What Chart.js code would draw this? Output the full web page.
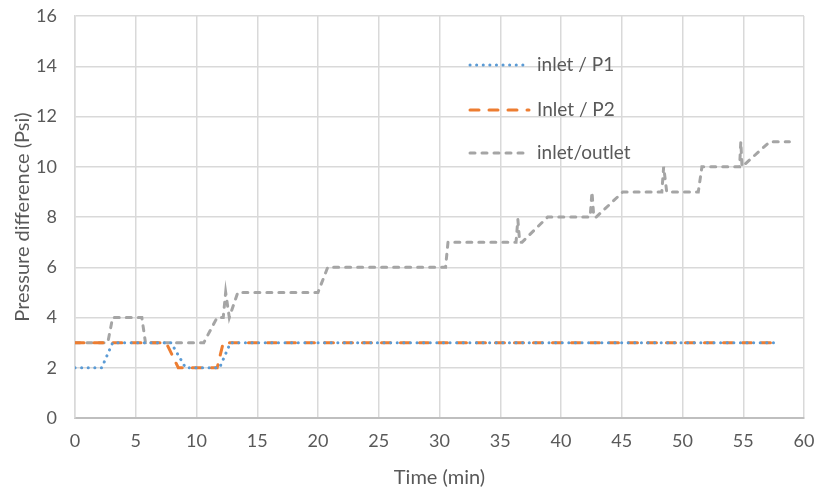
<!DOCTYPE html>
<html><head><meta charset="utf-8">
<script src="https://cdn.jsdelivr.net/npm/chart.js@4"></script>
<style>html,body{margin:0;padding:0;background:#fff}</style>
</head><body>
<canvas id="c" width="816" height="490"></canvas>
<script>
// Data
const p1Time = [0, 2.2, 3.1, 7.9, 9.1, 11.9, 12.8, 58];
const p1Val  = [2, 2,   3,   3,   2,   2,    3,    3];

const p2Time = [0, 7.5, 8.5, 11.7, 12.2, 58];
const p2Val  = [3, 3,   2,   2,    3,    3];

const ioTime = [0, 2.7, 3.1, 5.5, 5.8, 10.6, 11.7, 12.2, 12.4, 12.7, 13.4, 20.0, 20.8, 30.5, 30.7, 36.3, 36.45, 36.6, 36.8, 38.9, 42.4, 42.55, 42.7, 42.9, 45.1, 48.3, 48.45, 48.7, 51.3, 51.6, 54.7, 54.8, 54.9, 57.2, 58.8];
const ioVal  = [3, 3,   4,   4,   3,   3,    4,    4,    5,    4,    5,    5,    6,    6,    7,    7,    7.9,   7,    7,    8,    8,    9,     8,    8,    9,    9,    10,    9,    9,    10,   10,   11,   10,   11,   11];

const seriesLabels = ['inlet / P1', 'Inlet / P2', 'inlet/outlet'];
const xTicks = [0, 5, 10, 15, 20, 25, 30, 35, 40, 45, 50, 55, 60];
const yTicks = [0, 2, 4, 6, 8, 10, 12, 14, 16];

const toPts = (xs, ys) => xs.map((x, i) => ({x: x, y: ys[i]}));
const FONT = 'Lato, "Liberation Sans", sans-serif';
const TXT = '#595959';

const insideLegend = {
  id: 'insideLegend',
  afterDatasetsDraw(chart, args, opts) {
    const ctx = chart.ctx;
    chart.data.datasets.forEach((ds, i) => {
      const y = opts.rows[i];
      ctx.save();
      ctx.strokeStyle = ds.borderColor;
      ctx.lineWidth = ds.borderWidth;
      ctx.setLineDash(ds.borderDash);
      ctx.lineCap = ds.borderCapStyle;
      ctx.beginPath();
      ctx.moveTo(opts.x0, y);
      ctx.lineTo(opts.x1, y);
      ctx.stroke();
      ctx.setLineDash([]);
      ctx.fillStyle = TXT;
      ctx.font = opts.fontSize + 'px ' + FONT;
      ctx.textBaseline = 'middle';
      ctx.textAlign = 'left';
      ctx.fillText(ds.label, opts.tx, y);
      ctx.restore();
    });
  }
};

const zeroPad = s => { s.paddingLeft = 0; s.paddingRight = 0; s.paddingTop = 0; s.paddingBottom = 0; };

new Chart(document.getElementById('c'), {
  type: 'line',
  data: {
    datasets: [
      {label: seriesLabels[0], data: toPts(p1Time, p1Val), borderColor: '#5B9BD5', borderWidth: 3,
       borderDash: [0.1, 6.5], borderCapStyle: 'round', pointRadius: 0, tension: 0, fill: false},
      {label: seriesLabels[1], data: toPts(p2Time, p2Val), borderColor: '#ED7D31', borderWidth: 3,
       borderDash: [9, 10], borderCapStyle: 'round', pointRadius: 0, tension: 0, fill: false},
      {label: seriesLabels[2], data: toPts(ioTime, ioVal), borderColor: '#A5A5A5', borderWidth: 3,
       borderDash: [5, 7], borderCapStyle: 'round', pointRadius: 0, tension: 0, fill: false}
    ]
  },
  options: {
    responsive: false,
    animation: false,
    layout: {padding: {left: 0, right: 12, top: 16, bottom: 0}},
    plugins: {
      legend: {display: false},
      tooltip: {enabled: false},
      insideLegend: {x0: 470, x1: 529, tx: 537, rows: [65, 110, 153], fontSize: 19}
    },
    scales: {
      x: {
        type: 'linear', min: 0, max: 60,
        afterBuildTicks: s => { s.ticks = xTicks.map(v => ({value: v})); },
        afterFit: s => { s.height = 72; zeroPad(s); },
        grid: {color: '#D9D9D9', lineWidth: 1.5, drawTicks: false},
        border: {color: '#BFBFBF', width: 2},
        ticks: {color: TXT, font: {family: FONT, size: 18}, padding: 12, maxRotation: 0},
        title: {display: true, text: 'Time (min)', color: TXT, font: {family: FONT, size: 20}, padding: {top: 0, bottom: 0}}
      },
      y: {
        min: 0, max: 16,
        afterBuildTicks: s => { s.ticks = yTicks.map(v => ({value: v})); },
        afterFit: s => { s.width = 75; zeroPad(s); },
        grid: {color: '#D9D9D9', lineWidth: 1.5, drawTicks: false},
        border: {color: '#D9D9D9', width: 1.5},
        ticks: {color: TXT, font: {family: FONT, size: 18}, padding: 18},
        title: {display: true, text: 'Pressure difference (Psi)', color: TXT, font: {family: FONT, size: 20}, padding: {top: 11, bottom: 0}}
      }
    }
  },
  plugins: [insideLegend]
});
</script>
</body></html>
